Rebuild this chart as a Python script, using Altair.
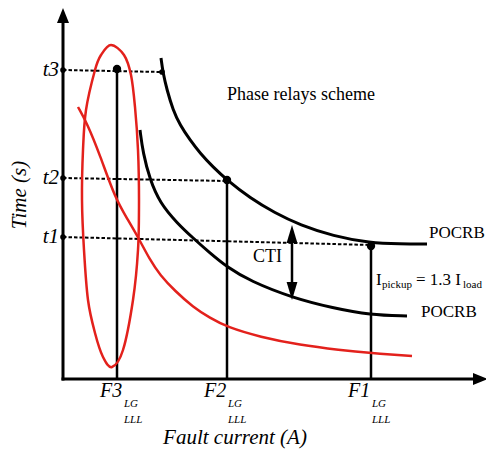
import altair as alt
import pandas as pd

# ---- values read from the schematic (current units from origin, time units from origin)
fault_names = ["F3", "F2", "F1"]
fault_current = [54, 164, 308]
fault_label_x = [37, 141, 285]
fault_sub_x = [61, 165, 309]

time_names = ["t3", "t2", "t1"]
time_levels = [309, 201, 142]

# operating points on the relay curves
op_current = [54, 164, 308]
op_time = [310, 199, 133]
# where the dashed time lines end
dash_end_x = [99, 164, 308]
dash_end_t = [307, 198, 134]

# upper relay curve (POCRB, backup)
upper_x = [98, 100, 104, 110, 117, 127, 137, 150, 164, 187, 212, 237, 270, 307, 337, 364]
upper_t = [321, 306, 289, 269, 254, 239, 226, 212, 199, 181, 166, 154, 143, 136, 135, 135]

# lower relay curve (POCRB, primary)
lower_x = [77, 80, 87, 97, 114, 130, 147, 164, 187, 230, 270, 307, 344]
lower_t = [249, 226, 199, 176, 156, 141, 126, 112, 98, 81, 71, 64, 63]

# red curve
red_x = [15, 24, 37, 52, 65, 75, 87, 97, 112, 130, 147, 164, 197, 237, 277, 307, 349]
red_t = [272, 256, 224, 181, 159, 142, 119, 104, 88, 72, 61, 52, 42, 34, 29, 26, 23]

# red ellipse outline
ell_x = [48, 61, 68, 72, 75, 76, 75, 70, 60, 49, 40, 32, 25, 21, 19, 20, 23, 32, 38]
ell_t = [334, 324, 304, 272, 229, 179, 129, 79, 29, 12, 22, 46, 79, 129, 179, 229, 269, 309, 324]

# CTI arrow
cti_x = 229
cti_top = 153
cti_bottom = 83

FONT = "Liberation Serif"
xs = alt.Scale(domain=[-55, 423])
ys = alt.Scale(domain=[-70, 371])


def X(f="x"):
    return alt.X(f"{f}:Q", scale=xs, axis=None)


def Y(f="y"):
    return alt.Y(f"{f}:Q", scale=ys, axis=None)


layers = []

# axes
axes = pd.DataFrame({"x": [0, 0], "x2": [0, 414], "y": [0, 0], "y2": [362, 0]})
layers.append(alt.Chart(axes).mark_rule(color="black", strokeWidth=3, strokeCap="square").encode(
    x=X(), x2="x2:Q", y=Y(), y2="y2:Q"))
ya = pd.DataFrame({"x": [0], "y": [363.5]})
layers.append(alt.Chart(ya).mark_point(shape="M0,-1L0.8,1L-0.8,1Z", size=225, filled=True,
                                       color="black", opacity=1).encode(x=X(), y=Y()))
xa = pd.DataFrame({"x": [417.5], "y": [0]})
layers.append(alt.Chart(xa).mark_point(shape="M1,0L-1,0.8L-1,-0.8Z", size=225, filled=True,
                                       color="black", opacity=1).encode(x=X(), y=Y()))

# dashed time lines
dash = pd.DataFrame({"x": [0, 0, 0], "x2": dash_end_x, "y": time_levels, "y2": dash_end_t})
layers.append(alt.Chart(dash).mark_rule(color="black", strokeWidth=2, strokeDash=[3.5, 2]).encode(
    x=X(), x2="x2:Q", y=Y(), y2="y2:Q"))

# vertical fault lines
vert = pd.DataFrame({"x": fault_current, "y": op_time, "y2": [0, 0, 0]})
layers.append(alt.Chart(vert).mark_rule(color="black", strokeWidth=2.5).encode(
    x=X(), y=Y(), y2="y2:Q"))

# curves
up = pd.DataFrame({"x": upper_x, "y": upper_t})
layers.append(alt.Chart(up).mark_line(color="black", strokeWidth=3, interpolate="basis").encode(
    x=X(), y=Y()))
lo = pd.DataFrame({"x": lower_x, "y": lower_t})
layers.append(alt.Chart(lo).mark_line(color="black", strokeWidth=3, interpolate="basis").encode(
    x=X(), y=Y()))
rd = pd.DataFrame({"x": red_x, "y": red_t})
layers.append(alt.Chart(rd).mark_line(color="#e3211c", strokeWidth=2.5, interpolate="basis").encode(
    x=X(), y=Y()))
el = pd.DataFrame({"x": ell_x, "y": ell_t, "i": list(range(len(ell_x)))})
layers.append(alt.Chart(el).mark_line(color="#e3211c", strokeWidth=2.5, interpolate="cardinal-closed").encode(
    x=X(), y=Y(), order="i:Q"))

# dots
big = pd.DataFrame({"x": op_current, "y": op_time})
layers.append(alt.Chart(big).mark_circle(color="black", size=70, opacity=1).encode(x=X(), y=Y()))
small = pd.DataFrame({"x": [0, 0, 0, dash_end_x[0]], "y": time_levels + [dash_end_t[0]]})
layers.append(alt.Chart(small).mark_circle(color="black", size=32, opacity=1).encode(x=X(), y=Y()))

# CTI arrow
cti = pd.DataFrame({"x": [cti_x], "y": [cti_top - 6], "y2": [cti_bottom + 6]})
layers.append(alt.Chart(cti).mark_rule(color="black", strokeWidth=2.5).encode(x=X(), y=Y(), y2="y2:Q"))
hu = pd.DataFrame({"x": [cti_x], "y": [cti_top - 8]})
layers.append(alt.Chart(hu).mark_point(shape="M0,-1L0.6,1L-0.6,1Z", size=324, filled=True,
                                       color="black", opacity=1).encode(x=X(), y=Y()))
hd = pd.DataFrame({"x": [cti_x], "y": [cti_bottom + 5]})
layers.append(alt.Chart(hd).mark_point(shape="M0,1L0.6,-1L-0.6,-1Z", size=324, filled=True,
                                       color="black", opacity=1).encode(x=X(), y=Y()))


def text_layer(xv, yv, texts, size, align="left", baseline="alphabetic", italic=False, angle=0):
    df = pd.DataFrame({"x": xv, "y": yv, "t": texts})
    kw = dict(font=FONT, fontSize=size, align=align, baseline=baseline, color="black")
    if italic:
        kw["fontStyle"] = "italic"
    if angle:
        kw["angle"] = angle
    return alt.Chart(df).mark_text(**kw).encode(x=X(), y=Y(), text="t:N")


# annotations
layers.append(text_layer([238], [284], ["Phase relays scheme"], 18, align="center", baseline="middle"))
layers.append(text_layer([219], [122], ["CTI"], 18, align="right", baseline="middle"))
layers.append(text_layer([366, 358], [146, 67], ["POCRB", "POCRB"], 17, baseline="middle"))
layers.append(text_layer([313, 353], [94, 94], ["I", "= 1.3 I"], 17))
layers.append(text_layer([319, 400], [91, 91], ["pickup", "load"], 11))

# time labels
layers.append(text_layer([-4, -4, -4], [t - 6 for t in time_levels], time_names, 21, align="right", italic=True))
layers.append(text_layer([-43], [184], ["Time (s)"], 21, align="center", baseline="middle", italic=True, angle=270))

# fault labels
layers.append(text_layer(fault_label_x, [-18, -18, -18], fault_names, 20, italic=True))
layers.append(text_layer(fault_sub_x, [-28, -28, -28], ["LG", "LG", "LG"], 11, italic=True))
layers.append(text_layer(fault_sub_x, [-44, -44, -44], ["LLL", "LLL", "LLL"], 11, italic=True))
layers.append(text_layer([172], [-65], ["Fault current (A)"], 21, align="center", italic=True))

chart = alt.layer(*layers).properties(
    width=478, height=441, padding=0, autosize=alt.AutoSizeParams(type="none")
).configure_view(stroke=None)

chart.save("out.html", embed_options={"renderer": "svg", "actions": False})
